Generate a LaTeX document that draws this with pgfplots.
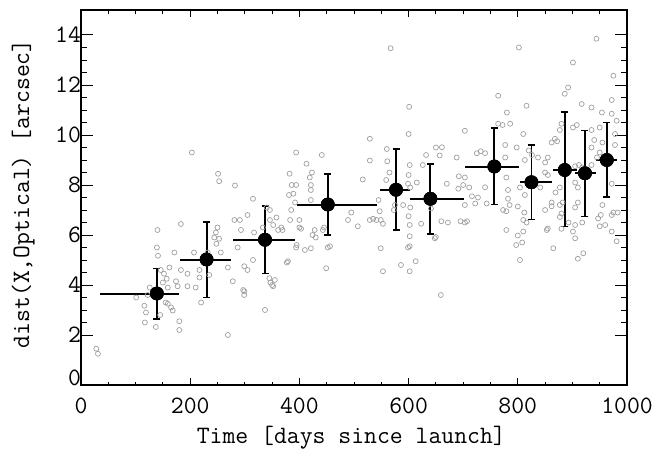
\documentclass[border=0pt]{standalone}
\usepackage{fontspec}
\usepackage{pgfplots}
\usepackage{pgfplotstable}
\pgfplotsset{compat=1.18}

\pgfplotstableread{
x y
28 1.45
31 1.25
101 3.5
116 3.17
119 2.9
117 2.5
122 3.6
126 3.9
137 2.32
140 6.2
139 5.5
141 5.17
146 4.6
152 4.45
157 4.25
150 4.1
159 3.9
155 3.3
145 2.8
159 3.25
165 3.1
168 2.98
162 4.7
171 5.3
174 4.15
180 2.55
180 2.2
183 6.44
183 4.6
177 3.95
195 4.45
195 3.95
207 5.3
210 3.9
217 4.3
217 4.6
220 3.3
203 9.3
232 5.3
235 4.4
244 5.9
247 6.1
250 6.3
253 5.85
256 5.3
248 5.65
251 8.45
253 8.15
269 4.7
278 4.15
281 6.6
287 5.5
282 7.98
291 6.6
293 6.2
297 3.8
299 4.75
299 3.75
299 3.6
305 4.6
305 6.8
315 7.45
315 5.0
317 6.1
269 2.0
333 6.3
337 3.0
340 7.1
346 7.0
346 6.6
345 4.27
347 4.1
350 4.0
352 3.95
352 6.4
355 4.2
358 6.7
361 6.2
367 6.3
369 6.2
377 4.9
379 4.95
381 7.6
382 8.45
383 6.6
385 7.0
386 8.0
389 7.65
392 7.3
394 9.3
394 8.0
394 5.5
395 5.6
400 6.6
400 6.3
403 6.25
410 5.4
413 8.85
419 8.3
421 8.0
421 7.8
423 8.5
421 7.4
421 5.47
424 6.0
428 6.2
430 5.9
441 9.2
443 6.2
445 6.3
449 4.67
452 5.5
456 5.55
489 6.6
495 6.9
507 6.35
516 8.22
529 8.98
529 9.85
529 6.6
535 6.65
541 6.6
545 7.4
547 6.95
549 6.6
549 5.47
553 6.45
553 4.55
559 8.2
560 9.44
561 8.95
565 8.5
567 13.47
573 7.0
575 7.2
586 4.8
590 7.2
599 8.05
599 5.5
600 8.4
600 6.75
600 10.04
601 11.13
602 8.8
602 6.4
602 5.95
602 5.55
602 4.55
603 7.1
603 7.9
613 4.95
615 8.1
623 6.45
626 8.8
632 9.2
639 7.33
641 7.06
648 5.87
650 9.5
650 5.92
657 9.18
659 3.6
660 6.55
661 9.51
670 8.05
672 6.5
688 9.1
691 7.85
692 8.35
695 6.55
700 8.0
703 10.17
703 8.3
703 7.2
703 6.5
707 6.55
711 7.9
716 7.55
722 7.26
725 9.27
727 7.5
732 9.35
740 9.27
740 7.91
743 7.26
764 11.57
764 10.45
772 10.4
779 6.95
779 6.2
779 8.3
780 10.9
782 7.8
782 7.45
777 9.1
777 9.6
773 7.0
785 7.2
786 10.45
798 9.5
797 5.6
800 7.14
800 5.98
802 13.5
804 7.9
804 5.0
808 5.7
810 10.04
810 6.14
810 6.6
812 6.9
813 7.6
813 9.0
816 11.17
816 6.5
820 9.38
826 9.2
837 9.1
841 7.9
850 8.9
850 8.5
850 7.0
853 6.2
855 9.1
855 8.4
855 6.26
862 9.7
862 7.3
862 7.15
865 5.47
868 9.85
869 7.7
872 9.75
877 10.2
877 7.9
877 7.2
877 6.72
880 10.45
880 6.86
880 6.25
882 7.3
886 11.65
892 11.9
893 6.5
901 10.3
901 12.9
901 6.14
905 8.1
905 7.1
905 8.75
905 5.87
905 6.4
908 10.4
910 7.3
910 5.05
910 7.9
912 8.8
917 11.24
918 6.5
918 8.7
920 5.27
935 11.1
935 10.2
935 9.5
935 8.8
940 9.8
944 13.85
945 9.1
947 6.66
950 10.3
950 9.3
950 6.35
952 6.8
954 10.9
955 7.2
955 9.7
960 6.4
972 11.4
972 10.85
972 8.05
972 6.14
972 6.8
975 12.37
975 6.9
978 10.04
978 9.6
981 10.57
981 5.75
983 6.9
}\scatterdata

\pgfplotstableread{
x y xp xm yp ym
139 3.66 40.5 104 1.00 1.03
230 5.02 44 49 1.51 1.52
337 5.81 55 58 1.34 1.35
452 7.22 91 57 1.23 1.23
577 7.81 25 29 1.63 1.60
640 7.45 62 38 1.40 1.42
757 8.74 46 54 1.53 1.52
825 8.11 38 21 1.49 1.49
886 8.60 22 21 2.33 2.26
923 8.47 20 18 1.71 1.73
963 9.00 18 19 1.50 1.49
}\bindata

\begin{document}
\begin{tikzpicture}
\begin{axis}[
  at={(0,0)}, anchor=south west,
  scale only axis, width=546pt, height=375pt,
  xmin=0, xmax=1000, ymin=0, ymax=15,
  xtick={0,200,...,1000}, ytick={2,4,...,14},
  extra y ticks={0},
  extra y tick style={yticklabel style={yshift=7pt}},
  minor x tick num=3, minor y tick num=3,
  tick align=inside,
  axis line style={line width=1.1pt},
  every tick/.style={black, line width=1pt},
  major tick length=12pt, minor tick length=6pt,
  xtick style={/pgfplots/major tick length=7pt, /pgfplots/minor tick length=3.5pt},
  /pgf/number format/assume math mode=true,
  /pgf/number format/1000 sep={},
  tick label style={font=\ttfamily\fontsize{25}{28}\selectfont},
  xticklabel style={yshift=-9pt},
  yticklabel style={xshift=3.5pt},
  label style={font=\ttfamily\fontsize{25}{28}\selectfont},
  xlabel={Time [days since launch]},
  ylabel={dist(X,Optical) [arcsec]},
  xlabel style={at={(axis description cs:0.495,-0.141)}, anchor=center},
  ylabel style={at={(axis description cs:-0.106,0.51)}, anchor=center},
  clip=false,
]
\addplot[only marks, mark=o, mark size=2.5pt, draw=gray!75, mark options={line width=0.7pt}] table[x=x,y=y] {\scatterdata};
\addplot[only marks, mark=*, mark size=6.7pt, black,
  error bars/.cd, x dir=both, x explicit, error mark=none,
  error bar style={line width=2pt, black}]
  table[x=x, y=y, x error plus=xp, x error minus=xm] {\bindata};
\addplot[only marks, mark=*, mark size=6.7pt, black,
  error bars/.cd, y dir=both, y explicit,
  error bar style={line width=1.9pt, black},
  error mark options={rotate=90, mark size=3.5pt, line width=1.9pt, black}]
  table[x=x, y=y, y error plus=yp, y error minus=ym] {\bindata};
\end{axis}
\pgfresetboundingbox
\path (-81pt,-71pt) rectangle (572pt,385pt);
\end{tikzpicture}
\end{document}
